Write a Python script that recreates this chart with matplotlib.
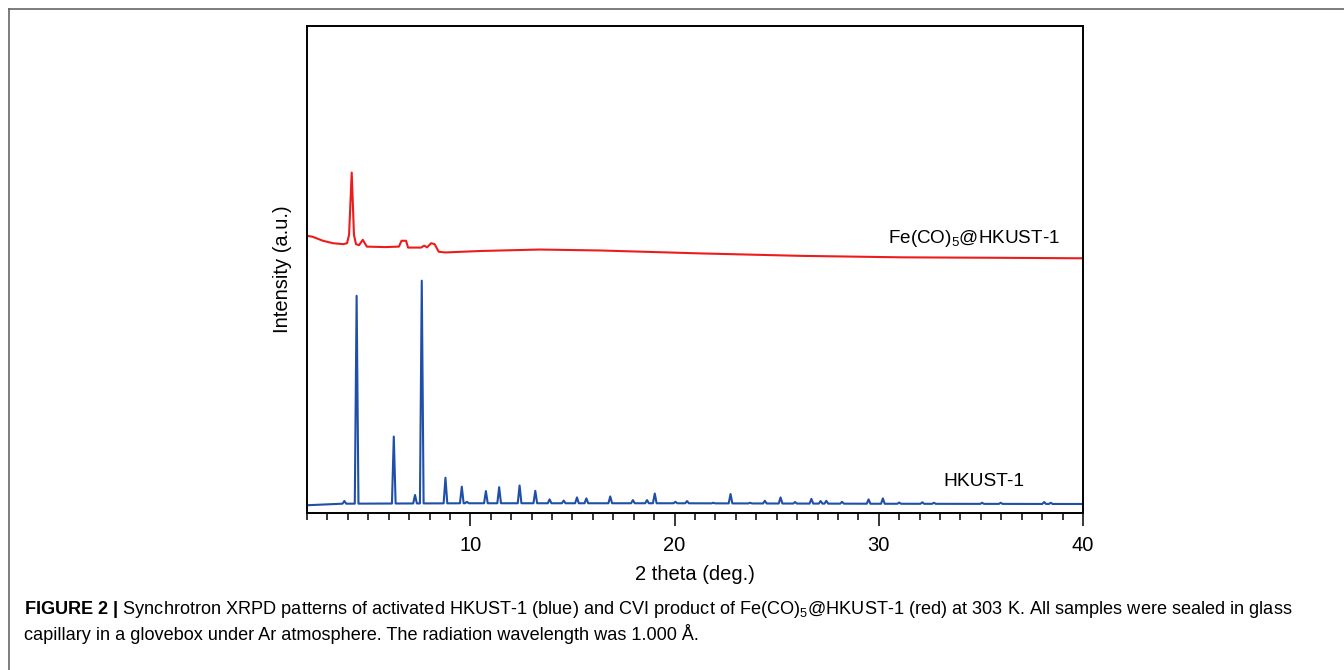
import matplotlib
matplotlib.use("Agg")
import matplotlib.pyplot as plt
from matplotlib.lines import Line2D
from matplotlib.ticker import MultipleLocator

plt.rcParams['font.family'] = ['Liberation Sans', 'DejaVu Sans']
plt.rcParams['mathtext.fontset'] = 'custom'
plt.rcParams['mathtext.rm'] = 'Liberation Sans'
plt.rcParams['mathtext.it'] = 'Liberation Sans:italic'
plt.rcParams['mathtext.bf'] = 'Liberation Sans:bold'

# -------------------------------
# DATA
# -------------------------------
# HKUST-1: baseline points and peak apexes (2 theta, intensity)
hk_base_x = [2.05, 3.0, 10.0, 20.0, 30.0, 40.0]
hk_base_y = [1.6, 1.9, 2.0, 2.0, 1.9, 1.85]
hk_peak_x = [3.83, 4.43, 6.25, 7.29, 7.62, 8.78, 9.58, 9.83, 10.76, 11.41,
             12.41, 13.18, 13.88, 14.57, 15.22, 15.68, 16.85, 17.96, 18.65, 19.03,
             20.04, 20.61, 21.9, 22.74, 23.7, 24.42, 25.19, 25.9, 26.7, 27.15,
             27.43, 28.2, 29.5, 30.2, 31.0, 32.13, 32.7, 35.06, 35.97, 38.1, 38.42]
hk_peak_y = [2.46, 44.6, 15.7, 3.7, 47.7, 7.25, 5.4, 2.3, 4.5, 5.3,
             5.65, 4.55, 2.8, 2.55, 3.2, 3.0, 3.4, 2.65, 2.65, 4.0,
             2.3, 2.45, 2.1, 3.9, 2.1, 2.5, 3.2, 2.25, 2.9, 2.45,
             2.5, 2.3, 2.8, 3.0, 2.15, 2.2, 2.1, 2.1, 2.1, 2.25, 2.1]

# Fe(CO)5@HKUST-1 trace
fe_x = [2.05, 2.29, 2.78, 3.27, 3.78, 3.96, 4.06, 4.19, 4.30, 4.40,
        4.55, 4.73, 4.93, 5.82, 6.50, 6.63, 6.85, 6.95, 7.59, 7.74,
        7.88, 8.08, 8.25, 8.45, 8.76, 10.5, 13.4, 16.4, 21.3, 26.2,
        31.1, 36.0, 40.0]
fe_y = [56.9, 56.7, 55.9, 55.4, 55.2, 55.4, 57.1, 69.9, 57.1, 55.2,
        55.0, 56.1, 54.7, 54.6, 54.7, 55.9, 55.9, 54.5, 54.5, 54.9,
        54.55, 55.4, 55.2, 53.65, 53.5, 53.8, 54.1, 53.9, 53.3, 52.8,
        52.5, 52.4, 52.3]

caption_1 = (r"$\mathbf{FIGURE\ 2\ |}$ Synchrotron XRPD patterns of activated HKUST-1 (blue) "
             r"and CVI product of Fe(CO)$_5$@HKUST-1 (red) at 303 K. All samples were sealed in glass")
caption_2 = "capillary in a glovebox under Ar atmosphere. The radiation wavelength was 1.000 Å."

# -------------------------------
# BUILD HKUST-1 LINE (spike at each peak on top of baseline)
# -------------------------------
half_w = 0.09


def base_at(x):
    for i in range(len(hk_base_x) - 1):
        if hk_base_x[i] <= x <= hk_base_x[i + 1]:
            t = (x - hk_base_x[i]) / (hk_base_x[i + 1] - hk_base_x[i])
            return hk_base_y[i] + t * (hk_base_y[i + 1] - hk_base_y[i])
    return hk_base_y[-1]


hx = [hk_base_x[0]]
hy = [hk_base_y[0]]
for px, py in zip(hk_peak_x, hk_peak_y):
    hx += [px - half_w, px, px + half_w]
    hy += [base_at(px - half_w), py, base_at(px + half_w)]
hx.append(hk_base_x[-1])
hy.append(hk_base_y[-1])

# -------------------------------
# PLOT
# -------------------------------
fig = plt.figure(figsize=(13.44, 6.70), dpi=100)
ax = fig.add_axes([307 / 1344, 1 - 513 / 670, 776 / 1344, 487 / 670])

ax.plot(hx, hy, color='#1f4fa8', lw=1.5)
ax.plot(fe_x, fe_y, color='#ee1b1b', lw=1.5)

ax.set_xlim(2, 40)
ax.set_ylim(0, 100)
ax.xaxis.set_major_locator(MultipleLocator(10))
ax.xaxis.set_minor_locator(MultipleLocator(1))
ax.set_yticks([])
ax.tick_params(axis='x', which='major', direction='out', length=9.5, width=1.1,
               pad=7, labelsize=14.5)
ax.tick_params(axis='x', which='minor', direction='out', length=5, width=1.1)
for s in ax.spines.values():
    s.set_linewidth(1.4)

ax.set_xlabel("2 theta (deg.)", fontsize=14.5, labelpad=7)
ax.set_ylabel("Intensity (a.u.)", fontsize=14.5, labelpad=11)

ax.text(35.14, 6.4, "HKUST-1", fontsize=13.8, ha='center', va='center')
ax.text(30.43, 56.3, r"Fe(CO)$_5$@HKUST-1", fontsize=13.6, ha='left', va='center')

# caption and frame
fig.text(24 / 1344, 1 - 609 / 670, caption_1, fontsize=13.05, ha='left', va='center')
fig.text(24 / 1344, 1 - 634 / 670, caption_2, fontsize=13.05, ha='left', va='center')
fig.add_artist(Line2D([9 / 1344, 1], [1 - 9 / 670, 1 - 9 / 670], color='#666666', lw=1.2,
                      transform=fig.transFigure))
fig.add_artist(Line2D([9 / 1344, 9 / 1344], [1 - 9 / 670, 0], color='#666666', lw=1.2,
                      transform=fig.transFigure))

fig.savefig("out.png", dpi=100)
